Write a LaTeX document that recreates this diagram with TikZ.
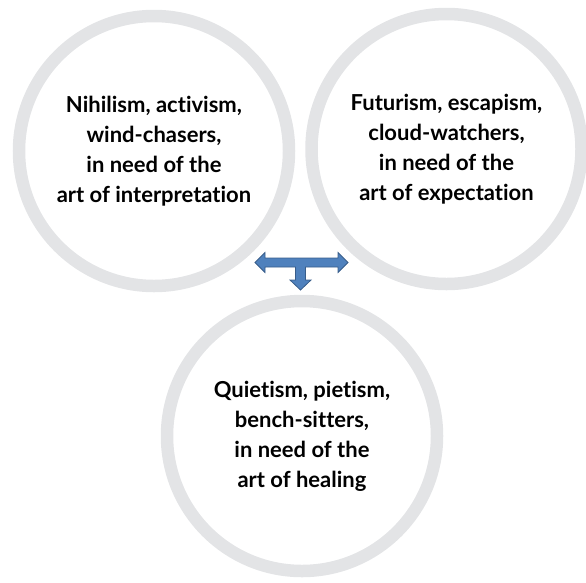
\documentclass[tikz,border=0pt]{standalone}
\usepackage{fontspec}
\setmainfont[Ligatures=NoCommon]{Lato}
\definecolor{ringgray}{RGB}{227,228,230}
\definecolor{arrowfill}{RGB}{79,129,189}
\definecolor{arrowline}{RGB}{56,93,138}
\begin{document}
\begin{tikzpicture}[x=1pt,y=-1pt,
  ring/.style={circle, draw=ringgray, line width=12.5pt, minimum size=270pt, inner sep=0pt,
    font=\fontsize{22}{30}\selectfont\bfseries, align=center, text=black},
  tarrow/.style={fill=arrowfill, draw=arrowline, line width=0.8pt, line join=miter}]
\useasboundingbox (0,0) rectangle (586,582);
\node[ring] (left) at (154,151) {Nihilism, activism,\\wind-chasers,\\in need of the\\art of interpretation};
\node[ring] (right) at (446.5,149) {Futurism, escapism,\\cloud-watchers,\\in need of the\\art of expectation};
\node[ring] (bottom) at (302,436) {Quietism, pietism,\\bench-sitters,\\in need of the\\art of healing};
\coordinate (tcenter) at (300.5,262.5);
\draw[tarrow] (255,262.5) -- (265,252.5) -- (265,258) -- (338,258) -- (338,252.5) -- (348,262.5)
  -- (338,272.5) -- (338,267) -- (305.5,267) -- (305.5,280) -- (311,280) -- (300.5,290)
  -- (290,280) -- (295.5,280) -- (295.5,267) -- (265,267) -- (265,272.5) -- cycle;
\end{tikzpicture}
\end{document}
